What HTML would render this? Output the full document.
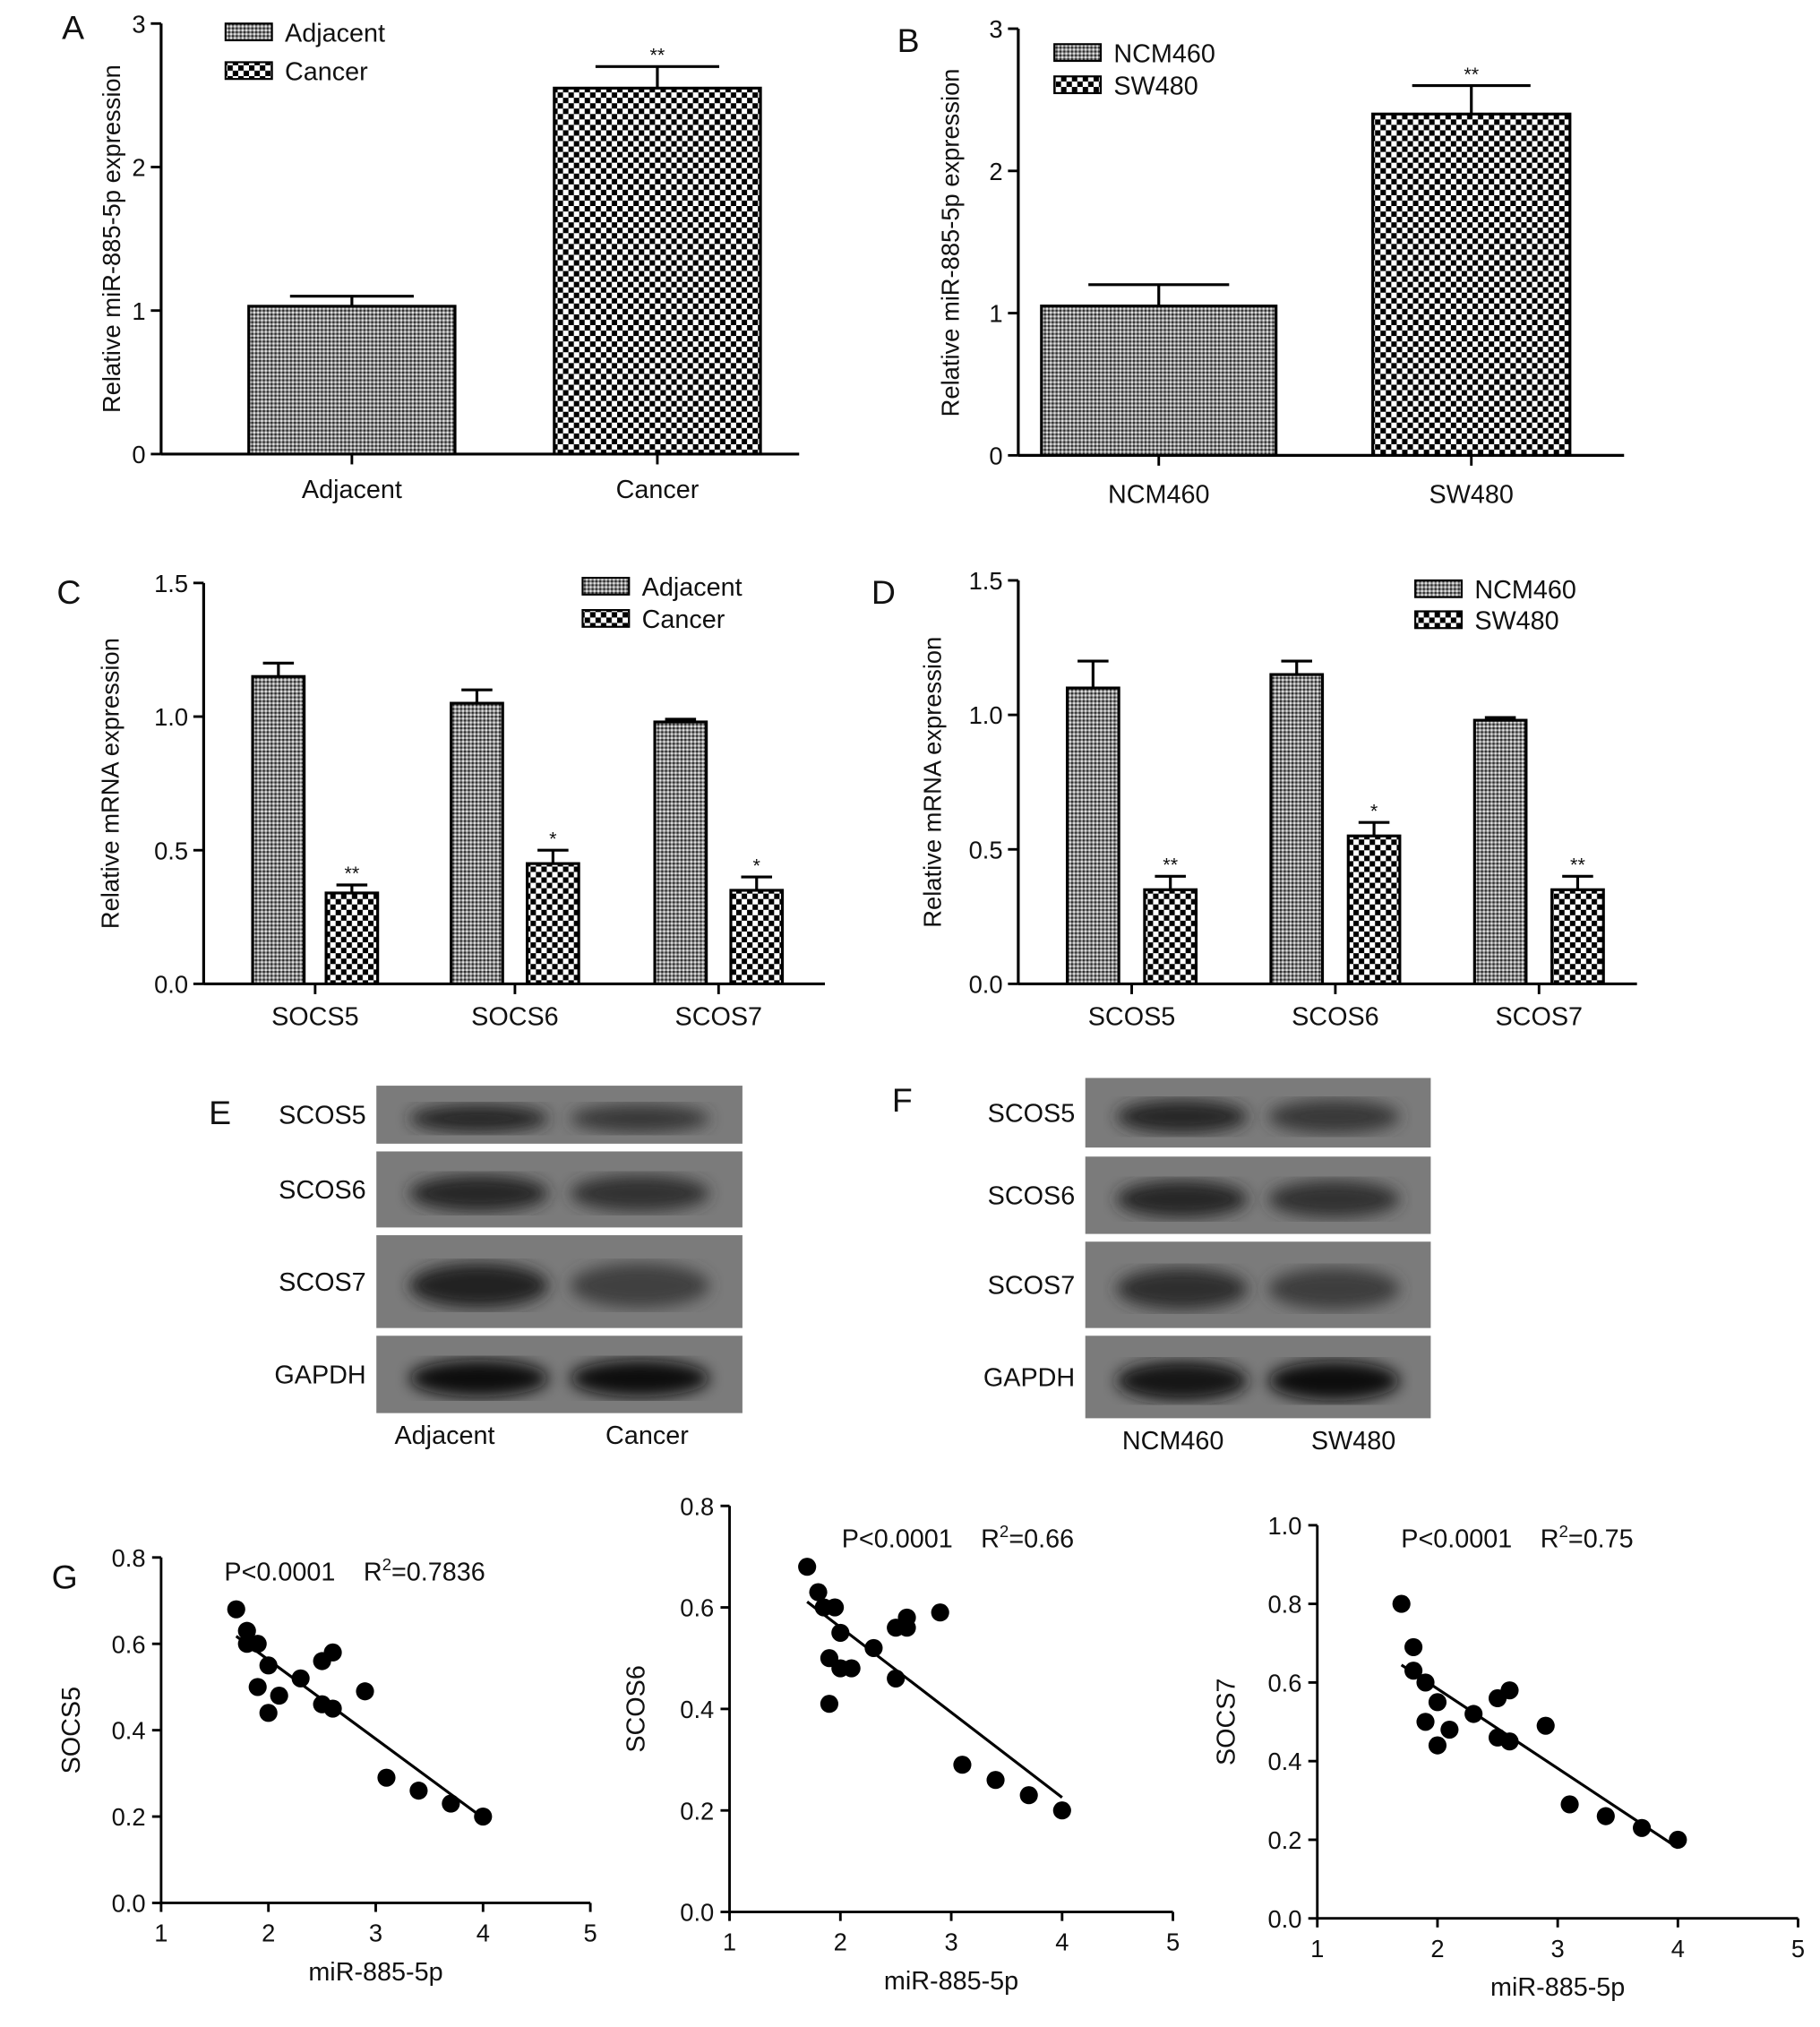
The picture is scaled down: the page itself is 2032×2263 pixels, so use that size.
<!DOCTYPE html>
<html><head><meta charset="utf-8">
<style>html,body{margin:0;padding:0;background:#fff}svg{display:block}text{font-family:"Liberation Sans",Arial,sans-serif;fill:#111}</style>
</head><body>
<svg id="fig" xmlns="http://www.w3.org/2000/svg" width="2032" height="2263" viewBox="0 0 1412 1572">
<defs>
<pattern id="pCan" width="8.4" height="8.4" patternUnits="userSpaceOnUse"><rect width="8.4" height="8.4" fill="#fff"/><rect width="4.2" height="4.2" fill="#000"/><rect x="4.2" y="4.2" width="4.2" height="4.2" fill="#000"/></pattern>
<pattern id="pAdj" width="3" height="3" patternUnits="userSpaceOnUse"><rect width="3" height="3" fill="#8a8a8a"/><rect width="1.5" height="1.5" fill="#2a2a2a"/><rect x="1.5" y="1.5" width="1.5" height="1.5" fill="#e6e6e6"/></pattern>
<filter id="blur"><feGaussianBlur stdDeviation="6"/></filter>
</defs>
<g id="root"></g>
</svg>
<script>
const NS="http://www.w3.org/2000/svg";
const root=document.getElementById('root');
function el(tag,attrs,parent,txt){const e=document.createElementNS(NS,tag);for(const k in attrs)e.setAttribute(k,attrs[k]);if(txt!==undefined)e.textContent=txt;(parent||root).appendChild(e);return e;}

// ---- data ----
const aCats=["Adjacent","Cancer"];const aVals=[1.03,2.55];const aErr=[1.1,2.7];const aStars=["","**"];
const bCats=["NCM460","SW480"];const bVals=[1.05,2.4];const bErr=[1.2,2.6];const bStars=["","**"];
const cCats=["SOCS5","SOCS6","SCOS7"];const cAdj=[1.15,1.05,0.98];const cAdjErr=[1.2,1.1,0.99];
const cCan=[0.34,0.45,0.35];const cCanErr=[0.37,0.5,0.4];const cStars=["**","*","*"];
const dCats=["SCOS5","SCOS6","SCOS7"];const dNcm=[1.1,1.15,0.98];const dNcmErr=[1.2,1.2,0.99];
const dSw=[0.35,0.55,0.35];const dSwErr=[0.4,0.6,0.4];const dStars=["**","*","**"];
const abTicks=[0,1,2,3];const cdTicks=["0.0","0.5","1.0","1.5"];
const gX=[1.7,1.8,1.8,1.9,1.9,2.0,2.0,2.1,2.3,2.5,2.5,2.6,2.6,2.9,3.1,3.4,3.7,4.0];
const g1Y=[0.68,0.63,0.6,0.6,0.5,0.55,0.44,0.48,0.52,0.56,0.46,0.58,0.45,0.49,0.29,0.26,0.23,0.2];
const g2X=[1.7,1.8,1.85,1.95,1.9,2.0,2.0,1.9,2.1,2.3,2.5,2.5,2.6,2.6,2.9,3.1,3.4,3.7,4.0];
const g2Y=[0.68,0.63,0.6,0.6,0.5,0.55,0.48,0.41,0.48,0.52,0.56,0.46,0.58,0.56,0.59,0.29,0.26,0.23,0.2];
const g3Y=[0.8,0.69,0.63,0.6,0.5,0.55,0.44,0.48,0.52,0.56,0.46,0.58,0.45,0.49,0.29,0.26,0.23,0.2];
const gXTicks=[1,2,3,4,5];

function letter(t,x,y){const e=el('text',{x,y,'font-size':26},root,t);}
function yAxis(x,y0,y1,ticks,vmax,title,tx,ty,name){
  const g=el('g',{});
  el('line',{x1:x,y1:y0,x2:x,y2:y1,stroke:'#000','stroke-width':2.2},g);
  ticks.forEach(t=>{const v=parseFloat(t);const y=y0-(y0-y1)*v/vmax;el('line',{x1:x-8,y1:y,x2:x,y2:y,stroke:'#000','stroke-width':2},g);el('text',{x:x-12,y:y+7,'font-size':19,'text-anchor':'end'},g,String(t));});
  const tt=el('text',{x:tx,y:ty,'font-size':19,'text-anchor':'middle',transform:`rotate(-90 ${tx} ${ty})`},g,title);
  
}
function bar(g,x,w,y0,sc,v,e,fill,star,name){
  const ey=y0-sc*e,vy=y0-sc*v,cx=x+w/2;
  el('line',{x1:cx,y1:vy,x2:cx,y2:ey,stroke:'#000','stroke-width':2.2},g);
  el('line',{x1:cx-w*0.3,y1:ey,x2:cx+w*0.3,y2:ey,stroke:'#000','stroke-width':2.2},g);
  const r=el('rect',{x,y:vy,width:w,height:sc*v,fill,stroke:'#000','stroke-width':2.2},g);
  
  if(star)el('text',{x:cx,y:ey-4,'font-size':15,'text-anchor':'middle'},g,star);
}
function legend(x,y,dy,labels,name){
  const g=el('g',{});
  labels.forEach((l,i)=>{el('rect',{x,y:y+i*dy-7,width:36,height:13,fill:i?'url(#pCan)':'url(#pAdj)',stroke:'#000','stroke-width':1.5},g);el('text',{x:x+46,y:y+i*dy+7,'font-size':20},g,l);});
}

// Panel A
letter('A',48,30);
yAxis(125,352,18,abTicks,3,'Relative miR-885-5p expression',93,185,'panel-a');
(function(){const g=el('g',{});
const sc=(352-18)/3;const xs=[193,430],w=160;
el('line',{x1:125,y1:352,x2:620,y2:352,stroke:'#000','stroke-width':2.2},g);
aCats.forEach((c,i)=>{bar(g,xs[i],w,352,sc,aVals[i],aErr[i],i?'url(#pCan)':'url(#pAdj)',aStars[i],'bar-'+c.toLowerCase());
el('line',{x1:xs[i]+w/2,y1:352,x2:xs[i]+w/2,y2:360,stroke:'#000','stroke-width':2},g);
el('text',{x:xs[i]+w/2,y:386,'font-size':20,'text-anchor':'middle'},g,c);});})();
legend(175,25,30,aCats,'panel-a');

// Panel B
letter('B',696,40);
yAxis(790,353,22,abTicks,3,'Relative miR-885-5p expression',744,188,'panel-b');
(function(){const g=el('g',{});
const sc=(353-22)/3;const xs=[808,1065];
el('line',{x1:790,y1:353,x2:1260,y2:353,stroke:'#000','stroke-width':2.2},g);
bCats.forEach((c,i)=>{const ww=i?153:182;bar(g,xs[i],ww,353,sc,bVals[i],bErr[i],i?'url(#pCan)':'url(#pAdj)',bStars[i],'bar-'+c.toLowerCase());
el('line',{x1:xs[i]+ww/2,y1:353,x2:xs[i]+ww/2,y2:361,stroke:'#000','stroke-width':2},g);
el('text',{x:xs[i]+ww/2,y:390,'font-size':20,'text-anchor':'middle'},g,c);});})();
legend(818,41,25,bCats,'panel-b');

function grouped(name,axX,y0,y1,cats,v1,e1,v2,e2,stars,x1s,x2s,w,xEnd,labels){
  yAxis(axX,y0,y1,cdTicks,1.5,'Relative mRNA expression',axX===158?92:730,(y0+y1)/2,name);
  const g=el('g',{});
  const sc=(y0-y1)/1.5;
  el('line',{x1:axX,y1:y0,x2:xEnd,y2:y0,stroke:'#000','stroke-width':2.2},g);
  cats.forEach((c,i)=>{bar(g,x1s[i],w,y0,sc,v1[i],e1[i],'url(#pAdj)','','bar-'+c.toLowerCase()+'-'+labels[0].toLowerCase());
  bar(g,x2s[i],w,y0,sc,v2[i],e2[i],'url(#pCan)',stars[i],'bar-'+c.toLowerCase()+'-'+labels[1].toLowerCase());
  const cx=(x1s[i]+x2s[i]+w)/2;el('line',{x1:cx,y1:y0,x2:cx,y2:y0+8,stroke:'#000','stroke-width':2},g);
  el('text',{x:cx,y:y0+32,'font-size':20,'text-anchor':'middle'},g,c);});
}
letter('C',44,468);
grouped('panel-c',158,763,452,cCats,cAdj,cAdjErr,cCan,cCanErr,cStars,[196,350,508],[253,409,567],40,640,["Adjacent","Cancer"]);
legend(452,455,25,["Adjacent","Cancer"],'panel-c');
letter('D',676,468);
grouped('panel-d',790,763,450,dCats,dNcm,dNcmErr,dSw,dSwErr,dStars,[828,986,1144],[888,1046,1204],40,1270,["NCM460","SW480"]);
legend(1098,457,24,["NCM460","SW480"],'panel-d');

// Blots
function blot(name,x,w,rows,labels,intens,bottom,bx){
  const g=el('g',{});
  rows.forEach((r,i)=>{el('rect',{x,y:r[0],width:w,height:r[1]-r[0],fill:'#7b7b7b'},g);
    const cy=(r[0]+r[1])/2+3,h=(r[1]-r[0])*0.24;
    [0,1].forEach(j=>{const c=intens[i][j];el('ellipse',{cx:x+w*(j?0.72:0.28),cy,rx:w*0.19,ry:h,fill:`rgb(${c},${c},${c})`,filter:'url(#blur)'},g);});
    el('text',{x:x-8,y:(r[0]+r[1])/2+7,'font-size':20,'text-anchor':'end'},g,labels[i]);});
  bottom.forEach((b,i)=>el('text',{x:bx[i],y:rows[3][1]+24,'font-size':20,'text-anchor':'middle'},g,b));
}
letter('E',162,872);
blot('blot-e',292,284,[[842,887],[893,952],[958,1030],[1036,1096]],['SCOS5','SCOS6','SCOS7','GAPDH'],[[40,55],[40,48],[35,65],[15,15]],['Adjacent','Cancer'],[345,502]);
letter('F',692,862);
blot('blot-f',842,268,[[836,890],[897,957],[963,1030],[1036,1100]],['SCOS5','SCOS6','SCOS7','GAPDH'],[[40,55],[40,50],[45,60],[20,10]],['NCM460','SW480'],[910,1050]);

// Scatter
function scatter(name,axX,x5,y0,ytop,ymax,yTicks,xs,ys,ylab,ylx,stat,r2,sx,sy){
  const g=el('g',{});
  const X=v=>axX+(v-1)/4*(x5-axX),Y=v=>y0-(y0-ytop)*v/ymax;
  el('line',{x1:axX,y1:y0,x2:axX,y2:ytop,stroke:'#000','stroke-width':2},g);
  el('line',{x1:axX,y1:y0,x2:x5,y2:y0,stroke:'#000','stroke-width':2},g);
  yTicks.forEach(t=>{const y=Y(parseFloat(t));el('line',{x1:axX-7,y1:y,x2:axX,y2:y,stroke:'#000','stroke-width':2},g);el('text',{x:axX-12,y:y+7,'font-size':19,'text-anchor':'end'},g,t);});
  gXTicks.forEach(t=>{const x=X(t);el('line',{x1:x,y1:y0,x2:x,y2:y0+7,stroke:'#000','stroke-width':2},g);el('text',{x,y:y0+30,'font-size':19,'text-anchor':'middle'},g,String(t));});
  el('text',{x:(axX+x5)/2,y:y0+60,'font-size':20,'text-anchor':'middle'},g,'miR-885-5p');
  const ty=(y0+ytop)/2;el('text',{x:ylx,y:ty,'font-size':20,'text-anchor':'middle',transform:`rotate(-90 ${ylx} ${ty})`},g,ylab);
  const n=xs.length,mx=xs.reduce((a,b)=>a+b)/n,my=ys.reduce((a,b)=>a+b)/n;
  let sxy=0,sxx=0;xs.forEach((x,i)=>{sxy+=(x-mx)*(ys[i]-my);sxx+=(x-mx)**2;});const b=sxy/sxx,a=my-b*mx;
  const xmin=Math.min(...xs),xmax=Math.max(...xs);
  el('line',{x1:X(xmin),y1:Y(a+b*xmin),x2:X(xmax),y2:Y(a+b*xmax),stroke:'#000','stroke-width':2.2},g);
  xs.forEach((x,i)=>{const c=el('circle',{cx:X(x),cy:Y(ys[i]),r:7,fill:'#000'},g);});
  el('text',{x:sx,y:sy,'font-size':20},g,stat);
  const t=el('text',{x:sx+108,y:sy,'font-size':20},g,'R');
  el('tspan',{dy:-8,'font-size':13},t,'2');el('tspan',{dy:8},t,'='+r2);
}
letter('G',40,1232);
scatter('scatter-socs5',125,458,1476,1208,0.8,['0.0','0.2','0.4','0.6','0.8'],gX,g1Y,'SOCS5',62,'P<0.0001','0.7836',174,1226);
scatter('scatter-scos6',566,910,1483,1168,0.8,['0.0','0.2','0.4','0.6','0.8'],g2X,g2Y,'SCOS6',500,'P<0.0001','0.66',653,1200);
scatter('scatter-socs7',1022,1395,1488,1183,1.0,['0.0','0.2','0.4','0.6','0.8','1.0'],gX,g3Y,'SOCS7',958,'P<0.0001','0.75',1087,1200);
</script>
</body></html>
